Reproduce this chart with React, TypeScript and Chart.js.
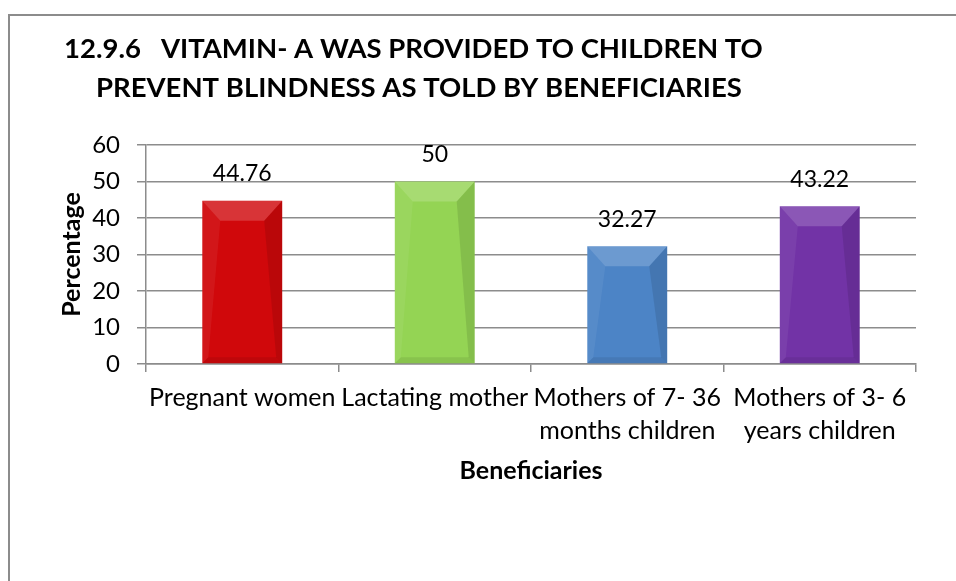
import React, { useEffect, useRef } from "react";
import { Chart, registerables } from "chart.js";

Chart.register(...registerables);

// ---- data ----
const categories: (string | string[])[] = [
  "Pregnant women",
  "Lactating mother",
  ["Mothers of 7- 36", "months children"],
  ["Mothers of 3- 6", "years children"],
];
const values = [44.76, 50, 32.27, 43.22];
const valueLabels = ["44.76", "50", "32.27", "43.22"];
const barColors = ["#d0080b", "#94d454", "#4c84c6", "#7233a6"];
const yMin = 0;
const yMax = 60;
const yStep = 10;
const titleLines = [
  "12.9.6   VITAMIN- A WAS PROVIDED TO CHILDREN TO",
  "PREVENT BLINDNESS AS TOLD BY BENEFICIARIES",
];
const yTitle = "Percentage";
const xTitle = "Beneficiaries";

const FONT = "Lato, 'Open Sans', sans-serif";
const GRID = "#8c8c8c";

const W = 946;
const H = 565;

const titlePlugin = {
  id: "customTitle",
  afterDraw(chart: any) {
    const ctx = chart.ctx;
    ctx.save();
    ctx.fillStyle = "#000";
    ctx.font = `bold 27.5px ${FONT}`;
    ctx.textBaseline = "middle";
    ctx.textAlign = "left";
    ctx.fillText(titleLines[0], 54, 33);
    ctx.fillText(titleLines[1], 86, 72);
    ctx.restore();
  },
};

const bevelPlugin = {
  id: "bevel",
  afterDatasetsDraw(chart: any) {
    const ctx = chart.ctx;
    const meta = chart.getDatasetMeta(0);
    ctx.save();
    meta.data.forEach((el: any) => {
      const { x, y, base, width } = el.getProps(["x", "y", "base", "width"], true);
      const L = x - width / 2;
      const R = x + width / 2;
      const T = y;
      const B = base;
      const b = 6;
      const ti = 18;
      const td = 20;
      const poly = (pts: number[][], fill: string) => {
        ctx.beginPath();
        ctx.moveTo(pts[0][0], pts[0][1]);
        for (let i = 1; i < pts.length; i++) ctx.lineTo(pts[i][0], pts[i][1]);
        ctx.closePath();
        ctx.fillStyle = fill;
        ctx.fill();
      };
      poly([[L, T], [R, T], [R - ti, T + td], [L + ti, T + td]], "rgba(255,255,255,0.18)");
      poly([[L, T], [L + ti, T + td], [L + b, B - b], [L, B]], "rgba(255,255,255,0.06)");
      poly([[R, T], [R, B], [R - b, B - b], [R - ti, T + td]], "rgba(0,0,0,0.10)");
      poly([[L, B], [R, B], [R - b, B - b], [L + b, B - b]], "rgba(0,0,0,0.08)");
    });
    ctx.restore();
  },
};

const labelPlugin = {
  id: "valueLabels",
  afterDatasetsDraw(chart: any) {
    const ctx = chart.ctx;
    const meta = chart.getDatasetMeta(0);
    ctx.save();
    ctx.fillStyle = "#000";
    ctx.font = `23px ${FONT}`;
    ctx.textAlign = "center";
    ctx.textBaseline = "middle";
    meta.data.forEach((el: any, i: number) => {
      const { x, y } = el.getProps(["x", "y"], true);
      ctx.fillText(valueLabels[i], x, y - 27);
    });
    ctx.restore();
  },
};

export default function App() {
  const ref = useRef<HTMLCanvasElement | null>(null);

  useEffect(() => {
    if (!ref.current) return;
    const chart = new Chart(ref.current, {
      type: "bar",
      data: {
        labels: categories as any,
        datasets: [
          {
            data: values,
            backgroundColor: barColors,
            borderWidth: 0,
            barPercentage: 0.415,
            categoryPercentage: 1,
          },
        ],
      },
      options: {
        responsive: false,
        animation: false,
        devicePixelRatio: 1,
        layout: { padding: { top: 129, left: 0, right: 40, bottom: 0 } },
        plugins: {
          legend: { display: false },
          tooltip: { enabled: false },
          title: { display: false },
        },
        scales: {
          x: {
            offset: true,
            grid: {
              offset: true,
              drawOnChartArea: false,
              drawTicks: true,
              tickLength: 8,
              color: GRID,
              lineWidth: 1.5,
            },
            border: { display: true, color: GRID, width: 1.5 },
            ticks: {
              color: "#000",
              font: { family: FONT, size: 25, lineHeight: 1.33 },
              padding: 9,
              maxRotation: 0,
              autoSkip: false,
            },
            title: {
              display: true,
              text: xTitle,
              color: "#000",
              font: { family: FONT, size: 25, weight: "bold", lineHeight: 1.2 },
              padding: { top: 0, bottom: 95 },
            },
            afterFit: (s: any) => {
              s.height = 217;
            },
          },
          y: {
            min: yMin,
            max: yMax,
            ticks: {
              stepSize: yStep,
              color: "#000",
              font: { family: FONT, size: 24 },
              padding: 17,
            },
            grid: {
              color: GRID,
              lineWidth: 1.5,
              tickLength: 9,
            },
            border: { display: true, color: GRID, width: 1.5 },
            title: {
              display: true,
              text: yTitle,
              color: "#000",
              font: { family: FONT, size: 25, weight: "bold", lineHeight: 1.2 },
              padding: { top: 47, bottom: 0 },
            },
            afterFit: (s: any) => {
              s.width = 136;
            },
          },
        },
      },
      plugins: [bevelPlugin, labelPlugin, titlePlugin],
    });
    return () => chart.destroy();
  }, []);

  return (
    <div
      style={{
        position: "absolute",
        left: 8,
        top: 14,
        width: 948,
        height: 567,
        boxSizing: "border-box",
        borderTop: "2px solid #8c8c8c",
        borderLeft: "2px solid #8c8c8c",
        background: "#fff",
      }}
    >
      <canvas ref={ref} width={W} height={H} style={{ display: "block", width: W, height: H }} />
    </div>
  );
}
